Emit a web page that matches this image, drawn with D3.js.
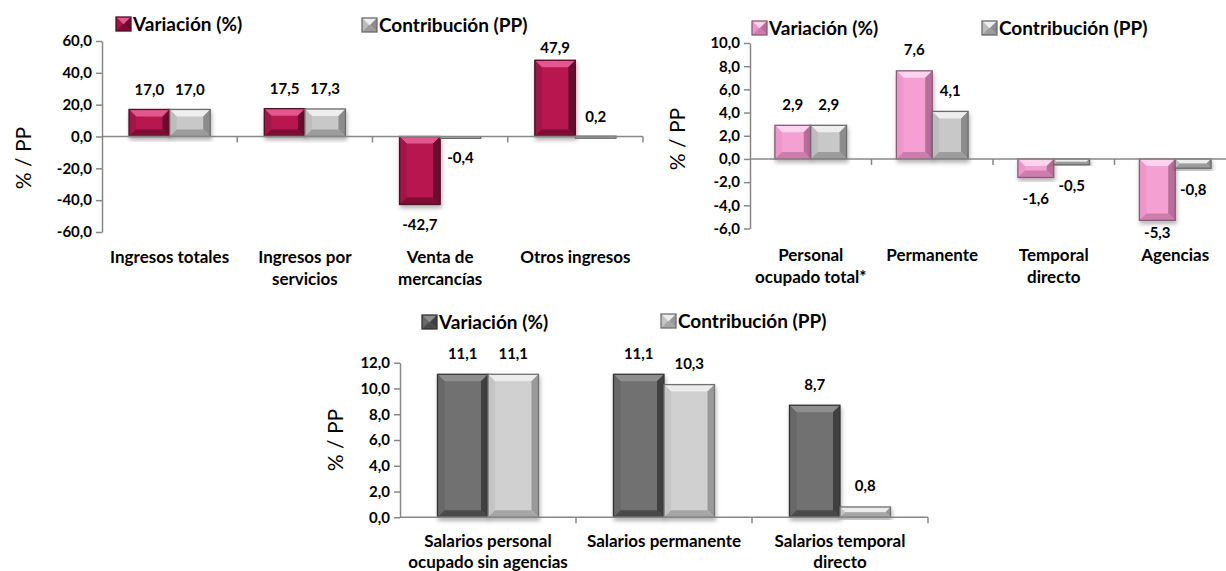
<!DOCTYPE html>
<html>
<head>
<meta charset="utf-8">
<script src="https://cdn.jsdelivr.net/npm/d3@7"></script>
<style>
  body { margin: 0; background: #fff; }
  svg { display: block; font-family: Lato, "Open Sans", sans-serif; }
</style>
</head>
<body>
<svg id="chart" width="1226" height="571"></svg>
<script>
// series names
const seriesNames = ["Variación (%)", "Contribución (PP)"];

// chart 1: ingresos
const ingresosCats = ["Ingresos totales", "Ingresos por\nservicios", "Venta de\nmercancías", "Otros ingresos"];
const ingresosVar = [17.0, 17.5, -42.7, 47.9];
const ingresosCon = [17.0, 17.3, -0.4, 0.2];
const ingresosTicks = [-60, -40, -20, 0, 20, 40, 60];

// chart 2: personal ocupado
const personalCats = ["Personal\nocupado total*", "Permanente", "Temporal\ndirecto", "Agencias"];
const personalVar = [2.9, 7.6, -1.6, -5.3];
const personalCon = [2.9, 4.1, -0.5, -0.8];
const personalTicks = [-6, -4, -2, 0, 2, 4, 6, 8, 10];

// chart 3: salarios
const salariosCats = ["Salarios personal\nocupado sin agencias", "Salarios permanente", "Salarios temporal\ndirecto"];
const salariosVar = [11.1, 11.1, 8.7];
const salariosCon = [11.1, 10.3, 0.8];
const salariosTicks = [0, 2, 4, 6, 8, 10, 12];

const loc = d3.formatLocale({ decimal: ",", thousands: ".", grouping: [3], currency: ["", "€"], minus: "-" });
const fmt = loc.format(".1f");

const pal = {
  crimson: { face: "#B8164F", top: "#E2588E", left: "#A21246", right: "#680A2D", bottom: "#7C0C36", edge: "#560926" },
  pink:    { face: "#F5A0D2", top: "#FDD3EE", left: "#EE96C9", right: "#B76E99", bottom: "#CB7EAC", edge: "#8C5878" },
  gray:    { face: "#C8C8C8", top: "#EEEEEE", left: "#BCBCBC", right: "#8C8C8C", bottom: "#9C9C9C", edge: "#6A6A6A" },
  dark:    { face: "#717171", top: "#8E8E8E", left: "#686868", right: "#404040", bottom: "#4A4A4A", edge: "#333333" },
  light:   { face: "#D0D0D0", top: "#ECECEC", left: "#C4C4C4", right: "#999999", bottom: "#A6A6A6", edge: "#707070" }
};

const svg = d3.select("#chart");
const defs = svg.append("defs");
defs.append("filter").attr("id", "shadow").attr("x", "-20%").attr("y", "-20%").attr("width", "140%").attr("height", "140%")
  .append("feDropShadow").attr("dx", 1).attr("dy", 3).attr("stdDeviation", 2)
  .attr("flood-color", "#000").attr("flood-opacity", 0.3);

// beveled box like the excel "angle" bevel
function bevelBox(g, x, y, w, h, p, shadow) {
  const b = Math.max(0, Math.min(7, w / 2, h / 2));
  const grp = g.append("g");
  if (shadow) grp.attr("filter", "url(#shadow)");
  grp.append("rect").attr("x", x).attr("y", y).attr("width", w).attr("height", h).attr("fill", p.face);
  const poly = (pts, c) => grp.append("polygon").attr("points", pts.map(d => d.join(",")).join(" ")).attr("fill", c);
  poly([[x, y], [x + w, y], [x + w - b, y + b], [x + b, y + b]], p.top);
  poly([[x, y], [x + b, y + b], [x + b, y + h - b], [x, y + h]], p.left);
  poly([[x + w, y], [x + w - b, y + b], [x + w - b, y + h - b], [x + w, y + h]], p.right);
  poly([[x, y + h], [x + b, y + h - b], [x + w - b, y + h - b], [x + w, y + h]], p.bottom);
  grp.append("rect").attr("x", x).attr("y", y).attr("width", w).attr("height", h)
    .attr("fill", "none").attr("stroke", p.edge).attr("stroke-width", 1.3);
}

function drawChart(o) {
  const g = svg.append("g");
  const x = d3.scaleBand().domain(o.cats).range([o.x0, o.x1]).padding(0);
  const bw = x.bandwidth();
  const x1 = d3.scaleBand().domain([0, 1]).range([bw * o.pad, bw * (1 - o.pad)]).padding(0);
  const y = d3.scaleLinear().domain(o.domain).range([o.yBottom, o.yTop]);
  const series = [o.vals, o.cons];
  const pals = [o.palVar, o.palCon];

  // y axis
  const yAxis = g.append("g").attr("transform", `translate(${o.x0},0)`)
    .call(d3.axisLeft(y).tickValues(o.ticks).tickFormat(fmt).tickSize(6).tickSizeOuter(0));
  yAxis.select(".domain").attr("stroke", "#878787").attr("stroke-width", 1.5);
  yAxis.selectAll(".tick line").attr("stroke", "#878787").attr("stroke-width", 1.5);
  yAxis.selectAll(".tick text").attr("x", -o.tickGap).attr("font-size", 15).attr("font-weight", "bold")
    .attr("fill", "#000").attr("font-family", "Lato");

  // bars
  series.forEach((vals, si) => {
    vals.forEach((v, i) => {
      const bx = x(o.cats[i]) + x1(si);
      const top = y(Math.max(0, v)), bot = y(Math.min(0, v));
      bevelBox(g, bx, top, x1.bandwidth(), Math.max(bot - top, 2), pals[si], true);
    });
  });

  // x axis at zero
  const y0 = y(0);
  g.append("line").attr("x1", o.x0).attr("x2", o.x1).attr("y1", y0).attr("y2", y0)
    .attr("stroke", "#878787").attr("stroke-width", 1.5);
  o.cats.forEach((c, i) => {
    const tx = x(c) + bw;
    g.append("line").attr("x1", tx).attr("x2", tx).attr("y1", y0).attr("y2", y0 + 6)
      .attr("stroke", "#878787").attr("stroke-width", 1.5);
  });

  // data labels, kept clear of the legend and of the category labels
  series.forEach((vals, si) => {
    vals.forEach((v, i) => {
      const cx = x(o.cats[i]) + x1(si) + x1.bandwidth() / 2;
      let ly = v >= 0 ? y(v) - o.labOff : y(v) + o.labOff;
      ly = Math.max(o.labMin, Math.min(o.catY - 22, ly));
      g.append("text").attr("x", cx).attr("y", ly).attr("text-anchor", "middle").attr("dy", "0.36em")
        .attr("font-size", 15).attr("font-weight", "bold").text(fmt(v));
    });
  });

  // category labels
  o.cats.forEach(c => {
    const lines = c.split("\n");
    const t = g.append("text").attr("text-anchor", "middle").attr("font-size", 17).attr("font-weight", "bold");
    lines.forEach((ln, k) => {
      t.append("tspan").attr("x", x(c) + bw / 2).attr("y", o.catY + k * o.lineH).attr("dy", "0.36em").text(ln);
    });
  });

  // y title
  g.append("text").attr("transform", `translate(${o.titleX},${o.titleY}) rotate(-90)`)
    .attr("text-anchor", "middle").attr("dy", "0.36em").attr("font-size", 21).text("% / PP");

  // legend
  o.legend.forEach((lg, si) => {
    bevelBox(g, lg[0], lg[1] - 7, 15, 14, pals[si], false);
    g.append("text").attr("x", lg[0] + 17).attr("y", lg[1]).attr("dy", "0.36em")
      .attr("font-size", 19).attr("font-weight", "bold").text(seriesNames[si]);
  });
}

drawChart({
  cats: ingresosCats, vals: ingresosVar, cons: ingresosCon, ticks: ingresosTicks,
  domain: [-60, 60], yBottom: 232, yTop: 41, x0: 102, x1: 643, pad: 0.2, tickGap: 10,
  palVar: pal.crimson, palCon: pal.gray, labOff: 20, labMin: 48, catY: 257, lineH: 21.5,
  titleX: 23, titleY: 158, legend: [[116, 24], [362, 25]]
});

drawChart({
  cats: personalCats, vals: personalVar, cons: personalCon, ticks: personalTicks,
  domain: [-6, 10], yBottom: 228.5, yTop: 43, x0: 750, x1: 1236, pad: 0.205, tickGap: 10,
  palVar: pal.pink, palCon: pal.gray, labOff: 21, labMin: 48, catY: 255, lineH: 21.5,
  titleX: 677, titleY: 139, legend: [[752, 28], [982, 28]]
});

drawChart({
  cats: salariosCats, vals: salariosVar, cons: salariosCon, ticks: salariosTicks,
  domain: [0, 12], yBottom: 517.3, yTop: 362.7, x0: 400, x1: 928, pad: 0.213, tickGap: 10,
  palVar: pal.dark, palCon: pal.light, labOff: 21, labMin: 340, catY: 541, lineH: 20.5,
  titleX: 335, titleY: 440, legend: [[422, 322], [661, 321]]
});
</script>
</body>
</html>
